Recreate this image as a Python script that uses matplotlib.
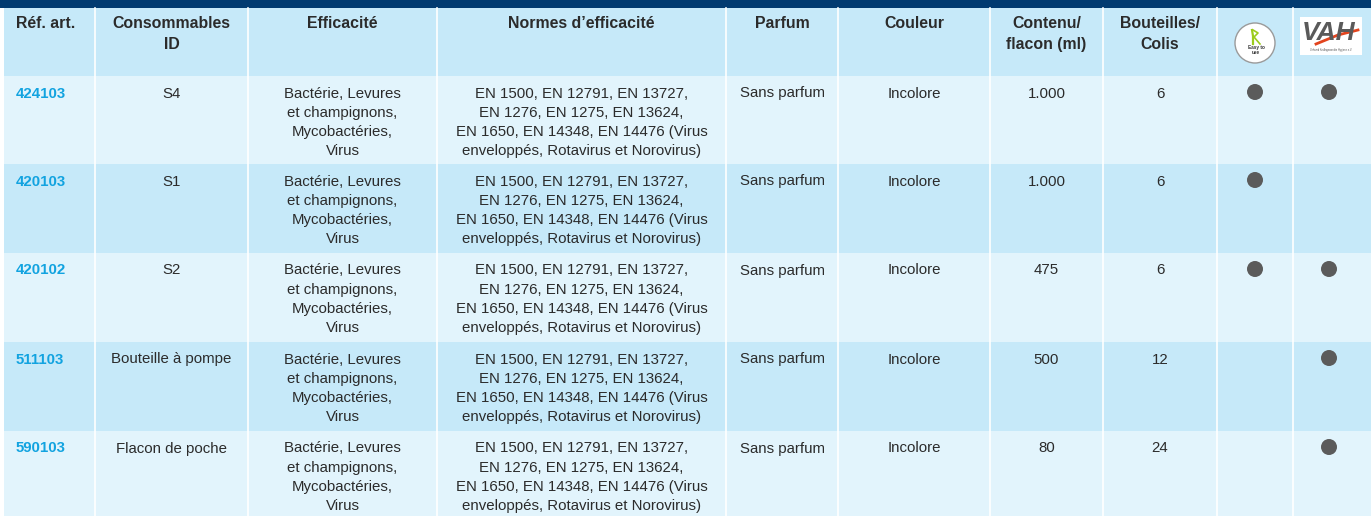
import matplotlib.pyplot as plt
from matplotlib.patches import Rectangle, Circle

plt.rcParams["font.family"] = ["Liberation Sans", "DejaVu Sans"]

# Table content
headers = ["Réf. art.", "Consommables\nID", "Efficacité", "Normes d’efficacité",
           "Parfum", "Couleur", "Contenu/\nflacon (ml)", "Bouteilles/\nColis", "", ""]
refs = ["424103", "420103", "420102", "511103", "590103"]
consumables = ["S4", "S1", "S2", "Bouteille à pompe", "Flacon de poche"]
efficacy = ["Bactérie, Levures\net champignons,\nMycobactéries,\nVirus"] * 5
norms = ["EN 1500, EN 12791, EN 13727,\nEN 1276, EN 1275, EN 13624,\n"
         "EN 1650, EN 14348, EN 14476 (Virus\nenveloppés, Rotavirus et Norovirus)"] * 5
perfume = ["Sans parfum"] * 5
colour = ["Incolore"] * 5
content_ml = ["1.000", "1.000", "475", "500", "80"]
per_pack = ["6", "6", "6", "12", "24"]
easy_to_use = [True, True, True, False, False]
vah_listed = [True, False, True, True, True]

# layout (pixels)
W, H = 1371, 516
col_edges = [4, 95, 248, 437, 726, 838, 990, 1103, 1217, 1293, 1371]
row_edges = [8, 76, 164, 253, 342, 431, 516]

NAVY = "#003a70"
DARK = "#c6e9f9"
LIGHT = "#e2f4fc"
TXT = "#2b2b2b"
BLUE = "#12a3e0"

fig = plt.figure(figsize=(W / 100, H / 100), dpi=100)
ax = fig.add_axes([0, 0, 1, 1])
ax.set_xlim(0, W)
ax.set_ylim(H, 0)
ax.axis("off")

ax.add_patch(Rectangle((0, 0), W, 8, color=NAVY, lw=0))
for i in range(len(row_edges) - 1):
    y0, y1 = row_edges[i], row_edges[i + 1]
    fc = DARK if i % 2 == 0 else LIGHT
    ax.add_patch(Rectangle((col_edges[0], y0), W - col_edges[0], y1 - y0, color=fc, lw=0))
for x in col_edges[1:-1]:
    ax.plot([x, x], [8, H], color="white", lw=1.2)

fs = 10.85
hfs = 11.4
# headers
for j, h in enumerate(headers):
    if not h:
        continue
    if j == 0:
        ax.text(16, 16, h, fontsize=hfs, fontweight="bold", color=TXT, ha="left", va="top")
    else:
        xc = (col_edges[j] + col_edges[j + 1]) / 2
        ax.text(xc, 16, h, fontsize=hfs, fontweight="bold", color=TXT, ha="center",
                va="top", multialignment="center", linespacing=1.5)

# easy-to-use badge
bx = (col_edges[8] + col_edges[9]) / 2
ax.add_patch(Circle((bx, 43), 20, fc="white", ec="#9a9a9a", lw=1.0))
ax.plot([bx - 3, bx - 2, bx - 2], [30, 36, 44], color="#9ccc1c", lw=1.6)
ax.plot([bx - 2, bx + 3, bx - 1, bx + 5], [30, 33, 37, 44], color="#9ccc1c", lw=1.2)
ax.text(bx + 1, 50, "Easy to\nuse", fontsize=3.4, fontweight="bold", ha="center",
        va="center", color="#333333", linespacing=1.0)

# VAH logo
vx0 = col_edges[9] + 7
ax.add_patch(Rectangle((vx0, 17), 62, 38, fc="white", ec="none"))
ax.text(vx0 + 29, 33, "VAH", fontsize=19, fontweight="bold", style="italic",
        color="#5a5a5a", ha="center", va="center")
ax.plot([vx0 + 16, vx0 + 38, vx0 + 58], [44, 35, 30], color="#e2441e", lw=2)
ax.text(vx0 + 31, 50, "Verbund für Angewandte Hygiene e.V.", fontsize=1.8,
        color="#555555", ha="center", va="center")

# body
for i in range(len(refs)):
    top = row_edges[i + 1] + 10.5
    ax.text(16, top, refs[i], fontsize=fs, fontweight="bold", color=BLUE,
            ha="left", va="top")
    cells = [consumables[i], efficacy[i], norms[i], perfume[i], colour[i],
             content_ml[i], per_pack[i]]
    for j, c in enumerate(cells, start=1):
        xc = (col_edges[j] + col_edges[j + 1]) / 2
        ax.text(xc, top, c, fontsize=fs, color=TXT, ha="center", va="top",
                multialignment="center", linespacing=1.48)
    yd = row_edges[i + 1] + 16
    if easy_to_use[i]:
        ax.add_patch(Circle(((col_edges[8] + col_edges[9]) / 2, yd), 8, color="#5b5b5b", lw=0))
    if vah_listed[i]:
        ax.add_patch(Circle(((col_edges[9] + col_edges[10]) / 2 - 3, yd), 8, color="#5b5b5b", lw=0))

fig.savefig("out.png", dpi=100)
